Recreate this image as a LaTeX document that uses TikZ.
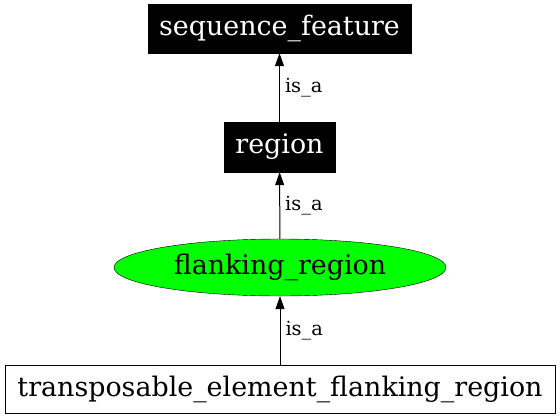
\documentclass[tikz,border=0pt]{standalone}
\usepackage{fontspec}
\setmainfont{DejaVu Serif}
\usetikzlibrary{arrows.meta,shapes.geometric}

\begin{document}
\begin{tikzpicture}[x=1bp,y=1bp,
  term/.style={draw,inner sep=0pt,font=\fontsize{27}{32}\selectfont},
  blackterm/.style={term,fill=black,text=white},
  isa/.style={draw,line width=1bp,-{Triangle[length=13bp,width=9bp]}},
  isalabel/.style={right,xshift=3bp,inner sep=2bp,font=\fontsize{19.5}{23}\selectfont}]
\useasboundingbox (0,0) rectangle (560,419);
\node[blackterm,minimum width=263bp,minimum height=49bp] (seqfeat) at (279.5,390.5) {sequence\_feature};
\node[blackterm,minimum width=111bp,minimum height=50bp] (region) at (279.5,272) {region};
\node[term,ellipse,fill=green,minimum width=332bp,minimum height=57bp] (flank) at (280,151.5) {flanking\_region};
\node[term,minimum width=550bp,minimum height=48bp] (teflank) at (280,30) {transposable\_element\_flanking\_region};
\draw[isa] (region) -- node[isalabel]{is\_a} (seqfeat);
\draw[isa] (flank) -- node[isalabel]{is\_a} (region);
\draw[isa] (teflank) -- node[isalabel]{is\_a} (flank);
\end{tikzpicture}
\end{document}
